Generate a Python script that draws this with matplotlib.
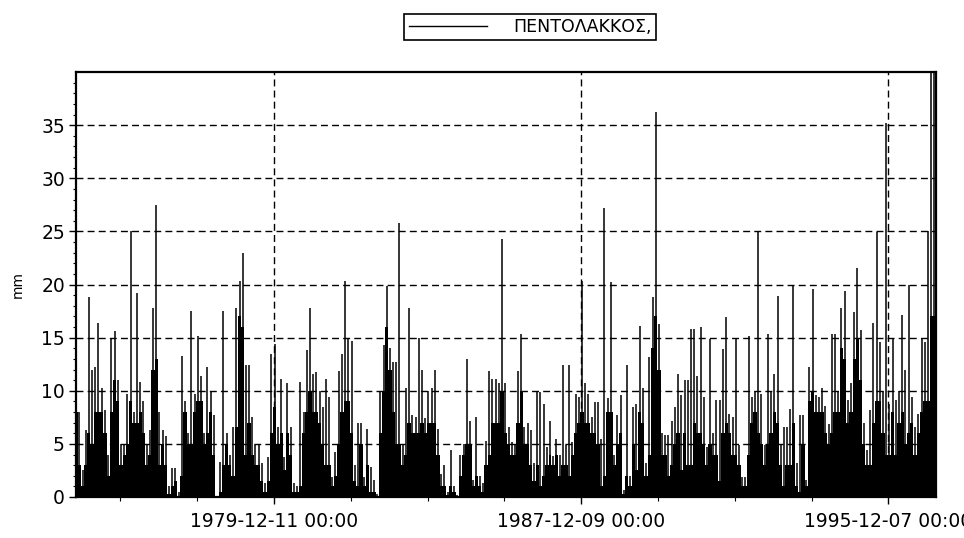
import numpy as np
import pandas as pd
import matplotlib
matplotlib.use("Agg")
import matplotlib.pyplot as plt
from matplotlib.lines import Line2D

# Daily rainfall record, summarised per calendar month:
# the largest single-day total and the typical level of the wet days.
station = "ΠΕΝΤΟΛΑΚΚΟΣ,"
unit = "mm"
first_month = "1974-10-01"

monthly_peak_mm = [
    20, 8, 2.5, 6.3, 18.8, 12, 12.2, 16.4, 10.3, 8.2, 4, 15, 15.6, 11, 5, 5, 9.7, 25, 8, 19.2,
    10.8, 9, 5, 6.3, 17.8, 27.5, 8, 6.3, 5.7, 1, 2.7, 2.7, 0.5, 13.3, 9, 6, 17.5, 9.7, 15.2, 11.4,
    6, 12.2, 9.9, 7.7, 0, 3.3, 17.5, 6, 4, 6.6, 17.8, 20.3, 23, 12.4, 12.4, 7.5, 4.9, 4.9, 3.2, 1.3,
    3.8, 13.5, 14.4, 6.6, 11.1, 3.8, 10.7, 6.6, 1.3, 1, 10.8, 8, 13.8, 17.8, 11.6, 11.8, 10, 8.5, 11.1, 9.4,
    1.9, 4.2, 11.9, 13.5, 20.3, 15, 14.7, 3, 7, 7, 1.9, 6.4, 2.8, 1.6, 0.3, 10, 14.3, 19.9, 14, 12.7,
    12.7, 25.8, 4.9, 10.3, 17.8, 7.7, 7.5, 15, 12, 7.4, 10, 10.3, 12, 6.4, 2.2, 3, 0.5, 4.4, 1, 0.2,
    4, 5, 13, 7.2, 1.6, 7.5, 2, 1.3, 5.3, 11.9, 11.1, 11.1, 10.7, 24.3, 10.7, 6.6, 5.2, 5, 11.9, 15.3,
    6.6, 7, 6.3, 3.2, 9.9, 9.9, 8.8, 4.7, 7.2, 3.9, 5.5, 4, 12.4, 4.9, 12.4, 5.2, 9.7, 9.4, 20.3, 10.7,
    9.7, 7.5, 8.9, 8.9, 5.5, 27.2, 9.3, 20.2, 4, 7.7, 9.6, 0.7, 12.4, 2, 8.5, 8.8, 16.1, 10.3, 3.2, 13.2,
    18.8, 36.2, 16.3, 6, 5.8, 5.8, 7.2, 8.5, 11.6, 9.6, 11, 11, 15.8, 15.8, 11.4, 16, 9.4, 4.7, 14.9, 6,
    9.1, 9.1, 13.9, 16.9, 7.8, 7.5, 15, 4.9, 1.9, 1.9, 15.2, 9.4, 10, 24.9, 9.7, 4.9, 15.3, 9.9, 11.6, 18.9,
    5, 6.6, 6.6, 8.3, 19.9, 3.2, 7.7, 7.7, 1.6, 12.2, 19.6, 9.6, 9.4, 10.3, 8.6, 6.9, 15.3, 15.3, 10, 17.8,
    19.4, 9.1, 10.7, 17.4, 21.6, 15.7, 7, 4.4, 8.2, 16.4, 24.9, 14.6, 10, 35.2, 8.8, 15, 9.1, 10, 17.1, 12,
    20, 9.4, 6.6, 7.8, 15, 14.6, 25, 42, 42,
]

monthly_bulk_mm = [
    8, 3, 1, 3, 6, 5, 8, 8, 8, 6, 2, 8, 11, 9, 3, 4, 5, 9, 7, 7,
    8, 6, 3, 4, 12, 13, 3, 5, 3, 0.3, 1, 1.5, 0, 2, 8, 5, 5, 8, 9, 9,
    5, 6, 8, 4, 0, 0.5, 3, 5, 3, 2, 6.6, 17, 16, 4, 7, 4, 3, 3, 1.5, 0.5,
    1.5, 6, 8.5, 5, 6, 2.5, 6, 4, 0.5, 0.5, 1, 6, 8, 10, 8, 8, 7, 5, 3, 3,
    1, 2, 5, 8, 9, 9, 6, 1.5, 1, 5, 1, 3, 0.5, 0.5, 0, 6, 10, 16, 12, 8,
    5, 5, 3, 4, 7, 6, 6, 6, 7, 6, 7, 7, 7, 4, 1, 1, 0.2, 1, 0.5, 0.1,
    2, 4, 5, 5, 1, 2, 1, 0.5, 3, 4, 7, 7, 7, 10, 6, 5, 4, 4, 7, 10,
    5, 5, 3, 1.5, 3, 1, 2, 3, 4, 3, 4, 2, 3, 3, 2, 4, 6, 7, 8, 7,
    7, 6, 6, 5, 1, 2, 8, 8, 3, 5, 6, 0.3, 2, 1, 5, 2.5, 8, 7, 2, 4,
    14, 17, 12, 4, 4, 2, 3, 5, 6, 2.5, 6, 3, 3, 7, 6, 6, 5, 3, 5, 4,
    4, 1.5, 6, 7, 6, 4, 4, 3, 1, 1, 4, 7, 8, 6, 5, 3, 5, 6, 8, 7,
    3, 1, 3, 3, 7, 1, 0.5, 5, 1, 9, 10, 8, 8, 8, 6, 5, 6, 8, 8, 14,
    13, 7, 8, 13, 15, 11, 5, 3, 3, 7, 9, 9, 6, 4, 4, 8, 4, 7, 8, 5,
    6, 7, 4, 6, 8, 9, 9, 17, 17,
]

tick_dates = ["1979-12-11", "1987-12-09", "1995-12-07"]
tick_labels = ["1979-12-11 00:00", "1987-12-09 00:00", "1995-12-07 00:00"]
view_start, view_end = "1974-10-15", "1997-03-03"
y_ticks = [0, 5, 10, 15, 20, 25, 30, 35]

months = pd.date_range(first_month, periods=len(monthly_peak_mm), freq="MS")
month_len = np.array([pd.Timestamp(m).days_in_month for m in months], dtype=float)
mid = months + pd.to_timedelta(month_len / 2, unit="D")

fig = plt.figure(figsize=(9.64, 5.38), dpi=100)
ax = fig.add_axes([76 / 964, 41 / 538, 860 / 964, 425 / 538])

# dense wet-day mass
ax.bar(months, monthly_bulk_mm, width=month_len, align="edge",
       color="black", linewidth=0, zorder=3)
# single-day maxima as thin needles
ax.vlines(mid, 0, monthly_peak_mm, color="black", linewidth=1.1, zorder=3)

ax.set_xlim(pd.Timestamp(view_start), pd.Timestamp(view_end))
ax.set_ylim(0, 40)

# y axis
ax.set_yticks(y_ticks)
ax.set_yticks(np.arange(0, 40, 1), minor=True)
ax.tick_params(axis="y", which="major", length=5, width=1, labelsize=13.5, pad=3)
ax.tick_params(axis="y", which="minor", length=2.5, width=0.8)
ax.set_ylabel(unit, fontsize=10, labelpad=12)

# x axis
major = [pd.Timestamp(d) for d in tick_dates]
ax.set_xticks(major)
ax.set_xticklabels(tick_labels)
minor = [major[0] + pd.Timedelta(days=730 * k) for k in range(-2, 9) if k % 4 != 0]
ax.set_xticks(minor, minor=True)
ax.tick_params(axis="x", which="major", length=5, width=1, labelsize=13.5, pad=6)
ax.tick_params(axis="x", which="minor", length=3, width=0.8)

# dashed grid
dash = (0, (5, 3))
ax.grid(True, axis="y", which="major", linestyle=dash, color="black", linewidth=1.0, zorder=1)
ax.grid(True, axis="x", which="major", linestyle=dash, color="black", linewidth=1.0, zorder=1)
ax.set_axisbelow(True)

for side in ("left", "top", "right", "bottom"):
    ax.spines[side].set_linewidth(1.6)
    ax.spines[side].set_color("black")

handle = Line2D([], [], color="black", linewidth=1.0)
leg = fig.legend([handle], [station], loc="center",
                 bbox_to_anchor=(530 / 964, 1 - 27 / 538),
                 frameon=True, fancybox=False, framealpha=1,
                 edgecolor="black", fontsize=12.5, handlelength=4.5,
                 borderpad=0.25, handletextpad=1.5)
leg.get_frame().set_linewidth(1.2)

fig.savefig("out.png", dpi=100, facecolor="white")
